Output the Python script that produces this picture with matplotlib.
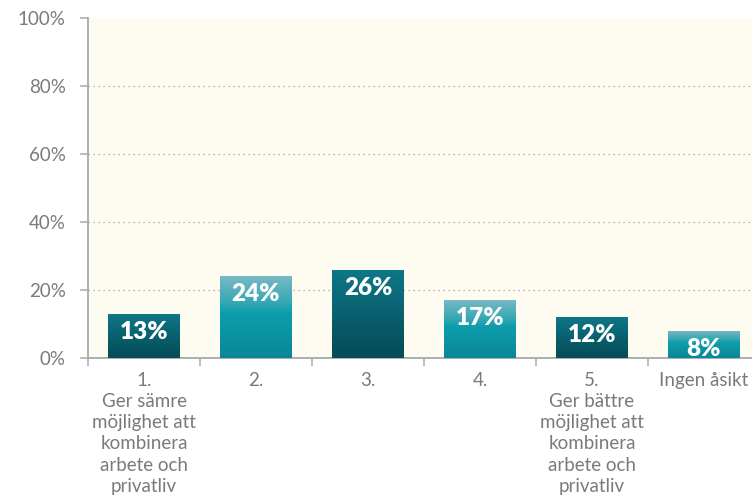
import numpy as np
import matplotlib
matplotlib.use('Agg')
import matplotlib.pyplot as plt
from matplotlib.colors import LinearSegmentedColormap

# DATOS
categorias = ['1.\nGer sämre\nmöjlighet att\nkombinera\narbete och\nprivatliv',
              '2.', '3.', '4.',
              '5.\nGer bättre\nmöjlighet att\nkombinera\narbete och\nprivatliv',
              'Ingen åsikt']
valores = [13, 24, 26, 17, 12, 8]
etiquetas = ['13%', '24%', '26%', '17%', '12%', '8%']
yticks = [0, 20, 40, 60, 80, 100]

plt.rcParams['font.family'] = ['Lato', 'DejaVu Sans']

GRIS = '#7a7a7a'
EJE = '#a8a8a8'
FONDO = '#fefcf0'

# gradientes (de abajo hacia arriba)
cm_oscuro = LinearSegmentedColormap.from_list(
    'oscuro', [(0.0, '#064b58'), (0.5, '#09606e'), (1.0, '#0e7887')])
cm_claro = LinearSegmentedColormap.from_list(
    'claro', [(0.0, '#0a8796'), (0.55, '#0d9eab'), (0.7, '#3aa9b5'), (1.0, '#78b9c3')])

fig = plt.figure(figsize=(7.52, 4.99), dpi=100)
ax = fig.add_axes([88 / 752, (499 - 358) / 499, 672 / 752, 340 / 499])
ax.set_facecolor(FONDO)

x = np.arange(len(valores))
barras = ax.bar(x, valores, width=0.635, color='none', edgecolor='none', zorder=3)

grad = np.linspace(0, 1, 256).reshape(-1, 1)
for i, b in enumerate(barras):
    cmap = cm_oscuro if i % 2 == 0 else cm_claro
    x0, y0 = b.get_x(), b.get_y()
    w, h = b.get_width(), b.get_height()
    im = ax.imshow(grad, cmap=cmap, origin='lower', aspect='auto',
                   extent=[x0, x0 + w, y0, y0 + h], zorder=3)
    im.set_clip_path(b)
    ax.annotate(etiquetas[i], (x[i], valores[i]), xytext=(0, -13),
                textcoords='offset points', ha='center', va='center',
                color='white', fontsize=17.5, fontweight='heavy', zorder=5)

ax.set_xlim(-0.5, len(valores) - 0.5)
ax.set_ylim(0, 100)

ax.set_yticks(yticks)
ax.set_yticklabels([str(v) + '%' for v in yticks])
for v in yticks[1:-1]:
    ax.axhline(v, color='#a0a0a0', linestyle=(0, (1, 3)), linewidth=0.9, zorder=1)

ax.set_xticks(x)
ax.set_xticklabels(categorias, linespacing=1.3)
ax.set_xticks(np.arange(-0.5, len(valores), 1), minor=True)
ax.tick_params(axis='x', which='major', length=0, pad=10, labelsize=13.5, colors=GRIS)
ax.tick_params(axis='x', which='minor', length=6, width=1.1, color=EJE)
ax.tick_params(axis='y', length=6, width=1.1, color=EJE, labelcolor=GRIS,
               labelsize=13.5, pad=10)

for s in ['top', 'right']:
    ax.spines[s].set_visible(False)
for s in ['left', 'bottom']:
    ax.spines[s].set_color(EJE)
    ax.spines[s].set_linewidth(1.3)

fig.savefig('out.png', dpi=100)
